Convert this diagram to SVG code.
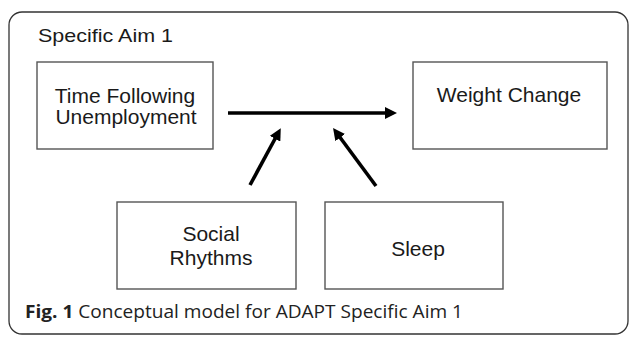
<svg xmlns="http://www.w3.org/2000/svg" width="629" height="337" viewBox="0 0 629 337">
<style>
.box{fill:#fff;stroke:#555;stroke-width:1.4}
.lbl{font-family:"Liberation Sans",Arial,sans-serif;font-size:21px;fill:#1a1a1a;text-anchor:middle}
.conn{stroke:#000;stroke-width:3.6;fill:none;marker-end:url(#ah)}
.cap{font-family:"Open Sans","Noto Sans",sans-serif;font-size:18px;fill:#222}
</style>
<defs>
<marker id="ah" markerUnits="userSpaceOnUse" viewBox="0 0 12 12" refX="2" refY="6" markerWidth="12" markerHeight="12" orient="auto">
<path d="M0,0 L12,6 L0,12 Z" fill="#000"/>
</marker>
</defs>
<rect x="9" y="12" width="619" height="322" rx="13" fill="#fff" stroke="#333" stroke-width="1.3"/>
<text x="38" y="42" font-family="Liberation Sans,Arial,sans-serif" font-size="19" fill="#1a1a1a" textLength="135" lengthAdjust="spacingAndGlyphs">Specific Aim 1</text>
<g id="time">
<rect class="box" x="37" y="62" width="176" height="87"/>
<text class="lbl" x="125" y="103">Time Following</text>
<text class="lbl" x="126" y="124">Unemployment</text>
</g>
<g id="weight">
<rect class="box" x="413" y="62" width="194" height="87"/>
<text class="lbl" x="509" y="102">Weight Change</text>
</g>
<g id="social">
<rect class="box" x="117" y="202" width="179" height="87"/>
<text class="lbl" x="211" y="241">Social</text>
<text class="lbl" x="211" y="265">Rhythms</text>
</g>
<g id="sleep">
<rect class="box" x="325" y="202" width="178" height="87"/>
<text class="lbl" x="418" y="256">Sleep</text>
</g>
<g id="connectors">
<line class="conn" x1="228" y1="113" x2="387" y2="113"/>
<line class="conn" x1="250" y1="185" x2="276" y2="137"/>
<line class="conn" x1="376" y1="186" x2="339" y2="136"/>
</g>
<text class="cap" x="25" y="318" textLength="438" lengthAdjust="spacingAndGlyphs"><tspan font-weight="bold">Fig. 1</tspan> Conceptual model for ADAPT Specific Aim 1</text>
</svg>
